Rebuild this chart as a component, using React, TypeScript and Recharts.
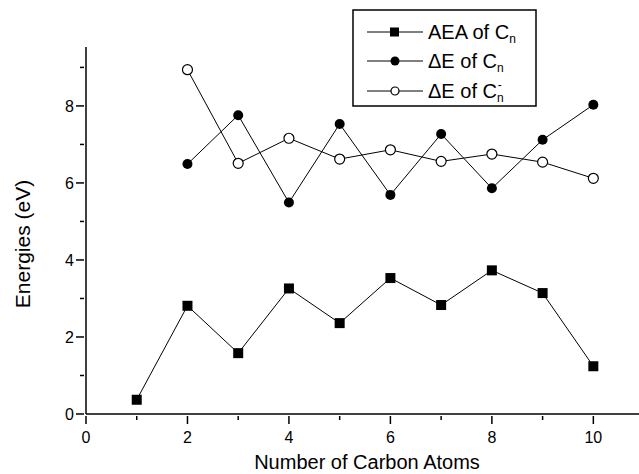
import React from "react";
import { LineChart, Line, XAxis, YAxis, Label } from "recharts";

const atoms = [1, 2, 3, 4, 5, 6, 7, 8, 9, 10];
const aeaCn = [0.37, 2.81, 1.58, 3.26, 2.36, 3.53, 2.83, 3.73, 3.14, 1.24];
const deltaECn = [null, 6.49, 7.76, 5.49, 7.53, 5.69, 7.27, 5.86, 7.12, 8.03];
const deltaECnAnion = [null, 8.94, 6.51, 7.16, 6.62, 6.86, 6.56, 6.75, 6.54, 6.12];
const xTicks = [0, 1, 2, 3, 4, 5, 6, 7, 8, 9, 10];
const yTicks = [0, 1, 2, 3, 4, 5, 6, 7, 8, 9];

const data = atoms.map((n, i) => ({
  n,
  aea: aeaCn[i],
  de: deltaECn[i],
  deAnion: deltaECnAnion[i],
}));

const FONT = "'Liberation Sans', Arial, sans-serif";

function XTick(props: any) {
  const { x, y, payload } = props;
  const major = payload.value % 2 === 0;
  return (
    <g>
      <line x1={x} x2={x} y1={y} y2={y + (major ? 8 : 4)} stroke="#000" strokeWidth={1.5} />
      {major && (
        <text x={x} y={y + 27} textAnchor="middle" fontSize={16} fontFamily={FONT} fill="#000">
          {payload.value}
        </text>
      )}
    </g>
  );
}

function YTick(props: any) {
  const { x, y, payload } = props;
  const major = payload.value % 2 === 0;
  return (
    <g>
      <line x1={x} x2={x - (major ? 8 : 4)} y1={y} y2={y} stroke="#000" strokeWidth={1.5} />
      {major && (
        <text x={x - 10} y={y + 6} textAnchor="end" fontSize={16} fontFamily={FONT} fill="#000">
          {payload.value}
        </text>
      )}
    </g>
  );
}

function Square(props: any) {
  const { cx, cy } = props;
  if (cy == null) return null;
  return <rect x={cx - 5} y={cy - 5} width={10} height={10} fill="#000" />;
}

function Dot(props: any) {
  const { cx, cy } = props;
  if (cy == null) return null;
  return <circle cx={cx} cy={cy} r={5} fill="#000" />;
}

function OpenDot(props: any) {
  const { cx, cy } = props;
  if (cy == null) return null;
  return <circle cx={cx} cy={cy} r={5} fill="#fff" stroke="#000" strokeWidth={1.2} />;
}

function LegendBox() {
  const rows = [
    { y: 32, label: "AEA of C", sup: false, marker: <rect x={23} y={-4.5} width={9} height={9} fill="#000" /> },
    { y: 61, label: "\u0394E of C", sup: false, marker: <circle cx={28} cy={0} r={4.5} fill="#000" /> },
    { y: 91, label: "\u0394E of C", sup: true, marker: <circle cx={28} cy={0} r={4} fill="#fff" stroke="#000" strokeWidth={1.2} /> },
  ];
  return (
    <svg width={639} height={474} style={{ position: "absolute", left: 0, top: 0, pointerEvents: "none" }}>
      <rect x={353} y={10} width={183} height={96} fill="#fff" stroke="#000" strokeWidth={1.5} />
      {rows.map((r, i) => (
        <g key={i} transform={`translate(367, ${r.y})`}>
          <line x1={0} x2={56} y1={0} y2={0} stroke="#000" strokeWidth={1} />
          {r.marker}
          <text x={61} y={7} fontSize={20} fontFamily={FONT} fill="#000">
            {r.label}
            <tspan fontSize={12} dy={4}>n</tspan>
            {r.sup && (
              <tspan fontSize={12} dx={-6} dy={-13}>-</tspan>
            )}
          </text>
        </g>
      ))}
    </svg>
  );
}

export default function App() {
  return (
    <div style={{ position: "absolute", left: 0, top: 0, width: 639, height: 474, background: "#fff" }}>
      <LineChart width={639} height={474} data={data} margin={{ top: 47, right: 0, left: 0, bottom: 0 }}>
        <XAxis
          dataKey="n"
          type="number"
          domain={[0, 10.9]}
          ticks={xTicks}
          allowDataOverflow
          height={60}
          tickSize={0}
          tickLine={false}
          tick={<XTick />}
          axisLine={{ stroke: "#000", strokeWidth: 1.5 }}
        >
          <Label
            content={() => (
              <text x={367} y={469} textAnchor="middle" fontSize={20} fontFamily={FONT} fill="#000">
                Number of Carbon Atoms
              </text>
            )}
          />
        </XAxis>
        <YAxis
          type="number"
          domain={[0, 9.53]}
          ticks={yTicks}
          allowDataOverflow
          width={86}
          tickSize={0}
          tickLine={false}
          tick={<YTick />}
          axisLine={{ stroke: "#000", strokeWidth: 1.5 }}
        >
          <Label
            content={() => (
              <text
                x={30}
                y={244}
                transform="rotate(-90 30 244)"
                textAnchor="middle"
                fontSize={21}
                fontFamily={FONT}
                fill="#000"
              >
                Energies (eV)
              </text>
            )}
          />
        </YAxis>
        <Line dataKey="aea" stroke="#000" strokeWidth={1} dot={<Square />} isAnimationActive={false} />
        <Line dataKey="de" stroke="#000" strokeWidth={1} dot={<Dot />} isAnimationActive={false} connectNulls />
        <Line dataKey="deAnion" stroke="#000" strokeWidth={1} dot={<OpenDot />} isAnimationActive={false} connectNulls />
      </LineChart>
      <LegendBox />
    </div>
  );
}
